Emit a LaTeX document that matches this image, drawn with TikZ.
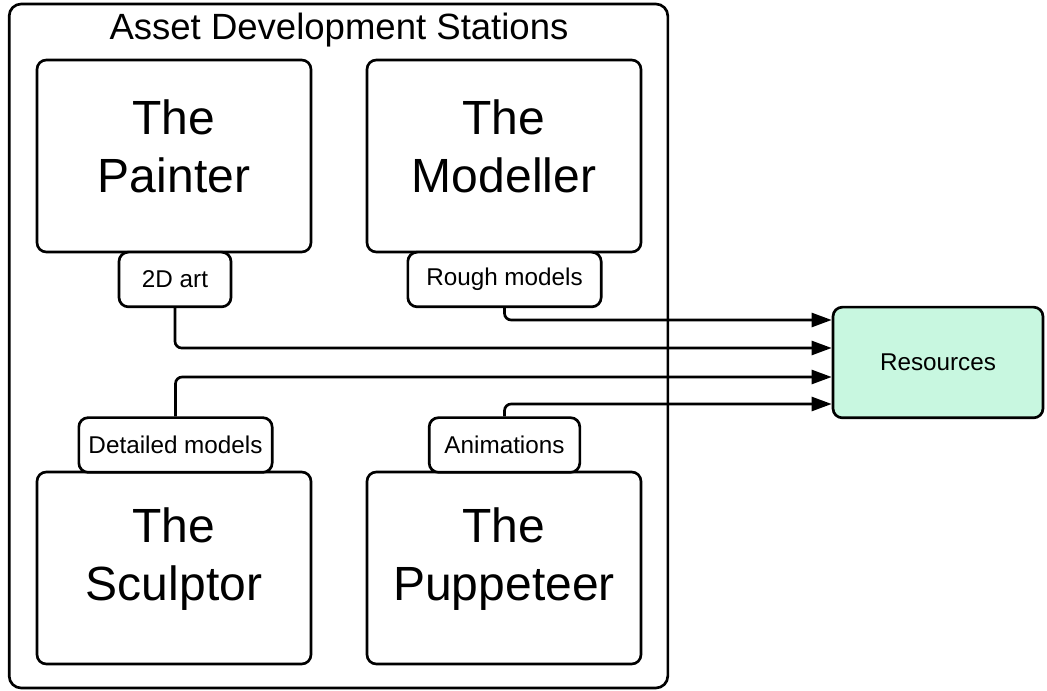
\documentclass[tikz,border=0pt]{standalone}
\usepackage{fontspec}
\setmainfont{Liberation Sans}
\usetikzlibrary{arrows.meta}
\definecolor{mint}{HTML}{C8F7E0}
\tikzset{
  frame/.style={draw, line width=2pt, rounded corners=7pt},
  station/.style={frame, fill=white, minimum width=205.5pt, minimum height=144pt,
    inner sep=0pt},
  station name/.style={align=center, inner sep=0pt, yshift=7pt,
    font=\fontsize{36}{43.5}\selectfont},
  product/.style={frame, fill=white, minimum height=41pt, inner sep=0pt,
    font=\fontsize{18.2}{21}\selectfont},
  flow/.style={line width=2pt, rounded corners=5pt,
    -{Triangle[length=15pt,width=10.5pt]}}
}
\begin{document}
\begin{tikzpicture}[x=0.75pt,y=-0.75pt]
  \useasboundingbox (0,0) rectangle (1047,691);
  % outer group frame and its title
  \node[frame, rounded corners=9pt, minimum width=494pt, minimum height=513pt, inner sep=0pt]
    (group) at (338.5,346) {};
  \node[font=\fontsize{27.4}{31}\selectfont, inner sep=0pt] (title) at (339,30) {Asset Development Stations};
  % the four stations
  \node[station] (painter)   at (174,156) {};
  \node[station] (modeller)  at (504,156) {};
  \node[station] (sculptor)  at (174,568) {};
  \node[station] (puppeteer) at (504,568) {};
  \node[station name] (painter-name)   at (painter.center)   {The\\Painter};
  \node[station name] (modeller-name)  at (modeller.center)  {The\\Modeller};
  \node[station name] (sculptor-name)  at (sculptor.center)  {The\\Sculptor};
  \node[station name] (puppeteer-name) at (puppeteer.center) {The\\Puppeteer};
  % what each station produces
  \node[product, minimum width=84pt]  (art)      at (175,279.5)   {2D art};
  \node[product, minimum width=145pt] (rough)    at (504.5,279.5) {Rough models};
  \node[product, minimum width=145pt] (detailed) at (175.5,445)   {Detailed models};
  \node[product, minimum width=113pt] (anim)     at (504.5,445)   {Animations};
  % shared resources
  \node[frame, fill=mint, minimum width=157.5pt, minimum height=83pt, inner sep=0pt,
    font=\fontsize{18.2}{21}\selectfont] (res) at (938,362.5) {Resources};
  % flows into the resources
  \draw[flow] (rough.south)    |- (res.west |- 0,320);
  \draw[flow] (art.south)      |- (res.west |- 0,348);
  \draw[flow] (detailed.north) |- (res.west |- 0,377);
  \draw[flow] (anim.north)     |- (res.west |- 0,404);
\end{tikzpicture}
\end{document}
